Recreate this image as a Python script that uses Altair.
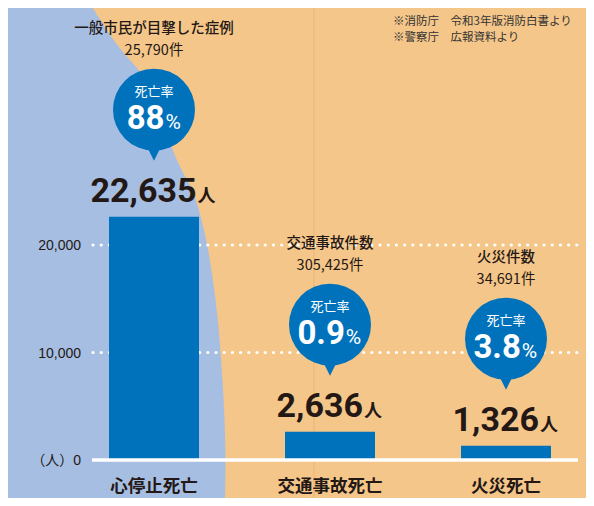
import altair as alt
import pandas as pd

# ---------------- data ----------------
categories = ["心停止死亡", "交通事故死亡", "火災死亡"]
deaths = [22635, 2636, 1326]
death_rate = ["88", "0.9", "3.8"]
note_titles = ["一般市民が目撃した症例", "交通事故件数", "火災件数"]
note_counts = ["25,790件", "305,425件", "34,691件"]
y_ticks = [0, 10000, 20000]
y_tick_labels = ["（人）0", "10,000", "20,000"]
grid_values = [10000, 20000]
sources = ["※消防庁　令和3年版消防白書より", "※警察庁　広報資料より"]

# decorative background shape (pixel coordinates, style only)
bg_y = [0, 12, 42, 59, 77, 112, 152, 179, 205, 239, 272, 309, 375, 442, 490]
bg_x = [85, 92, 112, 129, 142, 155, 167, 184, 192, 200, 205, 210, 215, 218, 217]

# ---------------- style / layout ----------------
W, H = 578, 490
ZERO_PX = 452
PX_PER_UNIT = 107.5 / 10000
Y_DOMAIN = [-(H - ZERO_PX) / PX_PER_UNIT, ZERO_PX / PX_PER_UNIT]
HALF_BAND = 88

ORANGE = "#F5C689"
LIGHTBLUE = "#A6BEE2"
BLUE = "#0072BC"
DARK = "#231815"
JP = "Noto Sans CJK JP"
BIGNUM_FONT = "Roboto"
NUM_FONT = "Roboto"

BIG_SIZE = 34
UNIT_SIZE = 18
PCT_SIZE = 33
PCTSIGN_SIZE = 21


def off(p):
    return p / PX_PER_UNIT


def big_width(s):
    w = 0
    for ch in s:
        w += 0.22 * BIG_SIZE if ch == "," else 0.5615 * BIG_SIZE
    return w


def pct_width(s):
    w = 0
    for ch in s:
        w += 0.26 * PCT_SIZE if ch == "." else 0.5615 * PCT_SIZE
    return w


df = pd.DataFrame({
    "category": categories,
    "deaths": deaths,
    "rate": death_rate,
    "title": note_titles,
    "count": note_counts,
})
df["num_label"] = [f"{v:,}" for v in deaths]
df["unit"] = "人"
df["pct_sign"] = "%"
df["bubble_head"] = "死亡率"
df["num_dx"] = [HALF_BAND + (big_width(s) + UNIT_SIZE) / 2 - UNIT_SIZE for s in df["num_label"]]
df["pct_dx"] = [HALF_BAND + (pct_width(s) + 16) / 2 - 16 for s in df["rate"]]
df["y_num"] = df["deaths"] + off(15)
df["y_bubble"] = df["deaths"] + off(107)
df["y_tri"] = df["deaths"] + off(107 - 45)
df["y_head"] = df["deaths"] + off(107 + 18)
df["y_pct"] = df["deaths"] + off(107 - 19)
df["y_note1"] = df["deaths"] + off(107 + 81)
df["y_note2"] = df["deaths"] + off(107 + 59)

Y_SCALE = alt.Scale(domain=Y_DOMAIN, nice=False, zero=False)
X_SCALE = alt.Scale(domain=categories, range=[58, 586], paddingInner=0, paddingOuter=0)
X = alt.X("category:N", scale=X_SCALE, axis=None)


def Y(field):
    return alt.Y(field, scale=Y_SCALE, axis=None)


base = alt.Chart(df)

bg = alt.Chart(pd.DataFrame({"bx": bg_x, "by": bg_y})).mark_area(
    orient="horizontal", interpolate="basis", color=LIGHTBLUE
).encode(
    y=alt.Y("by:Q", scale=None, axis=None),
    x=alt.X("bx:Q", scale=None, axis=None),
    x2=alt.value(0),
)

vline = alt.Chart(pd.DataFrame({"a": [0]})).mark_rule(color="#EDB470", strokeWidth=1).encode(
    x=alt.value(306), y=alt.value(0), y2=alt.value(H)
)

grid = alt.Chart(pd.DataFrame({"v": grid_values})).mark_rule(
    color="white", strokeWidth=3.2, strokeDash=[0.1, 8.1], strokeCap="round"
).encode(y=Y("v:Q"), x=alt.value(85), x2=alt.value(570))

bars = base.mark_bar(size=90, color=BLUE).encode(x=X, y=Y("deaths:Q"), y2=alt.datum(0))

baseline = alt.Chart(pd.DataFrame({"v": [0]})).mark_rule(color="white", strokeWidth=3.5).encode(
    y=Y("v:Q"), x=alt.value(84), x2=alt.value(570)
)

ylabels = alt.Chart(pd.DataFrame({"v": y_ticks, "t": y_tick_labels})).mark_text(
    align="right", baseline="middle", fontSize=14, font="Liberation Sans, " + JP, color=DARK, dy=1
).encode(y=Y("v:Q"), x=alt.value(73), text="t:N")

catlabels = base.mark_text(
    baseline="middle", fontSize=17.5, font=JP, fontWeight="bold", color=DARK
).encode(x=X, y=alt.value(479), text="category:N")

nums = base.mark_text(
    align="right", baseline="alphabetic", fontSize=BIG_SIZE, font=BIGNUM_FONT, fontWeight="bold", color=DARK
).encode(x=X, y=Y("y_num:Q"), text="num_label:N", xOffset=alt.XOffset("num_dx:Q", scale=None))

units = base.mark_text(
    align="left", baseline="alphabetic", fontSize=UNIT_SIZE, font=JP, fontWeight="bold", color=DARK, dx=1
).encode(x=X, y=Y("y_num:Q"), text="unit:N", xOffset=alt.XOffset("num_dx:Q", scale=None))

bubbles = base.mark_circle(size=82 * 82, color=BLUE, opacity=1).encode(x=X, y=Y("y_bubble:Q"))

tri = base.mark_point(
    shape="M-1,-1L1,-1L0,1Z", size=150, filled=True, color=BLUE, opacity=1, strokeWidth=0
).encode(x=X, y=Y("y_tri:Q"))

heads = base.mark_text(baseline="middle", fontSize=13, font=JP, color="white").encode(
    x=X, y=Y("y_head:Q"), text="bubble_head:N"
)

pcts = base.mark_text(
    align="right", baseline="alphabetic", fontSize=PCT_SIZE, font=NUM_FONT, fontWeight="bold", color="white"
).encode(x=X, y=Y("y_pct:Q"), text="rate:N", xOffset=alt.XOffset("pct_dx:Q", scale=None))

signs = base.mark_text(
    align="left", baseline="alphabetic", fontSize=PCTSIGN_SIZE, font=NUM_FONT, color="white", dx=1
).encode(x=X, y=Y("y_pct:Q"), text="pct_sign:N", xOffset=alt.XOffset("pct_dx:Q", scale=None))

note1 = base.mark_text(baseline="middle", fontSize=14.5, font=JP, color=DARK, fontWeight=500).encode(
    x=X, y=Y("y_note1:Q"), text="title:N"
)
note2 = base.mark_text(baseline="middle", fontSize=14.5, font=JP, color=DARK).encode(
    x=X, y=Y("y_note2:Q"), text="count:N"
)

src = alt.Chart(pd.DataFrame({"t": sources, "i": [0, 1]})).mark_text(
    align="left", baseline="middle", fontSize=11.5, font=JP, color="#333333"
).encode(
    x=alt.value(385),
    y=alt.Y("i:Q", scale=alt.Scale(domain=[0, 1], range=[14, 30]), axis=None),
    text="t:N",
)

chart = alt.layer(
    bg, vline, grid, bars, baseline, ylabels, catlabels, nums, units,
    bubbles, tri, heads, pcts, signs, note1, note2, src
).resolve_scale(y="independent").properties(
    width=W, height=H, padding=0, autosize=alt.AutoSizeParams(type="none")
).configure(background=ORANGE).configure_view(stroke=None)

chart.save("out.html", embed_options={"renderer": "svg", "actions": False})
